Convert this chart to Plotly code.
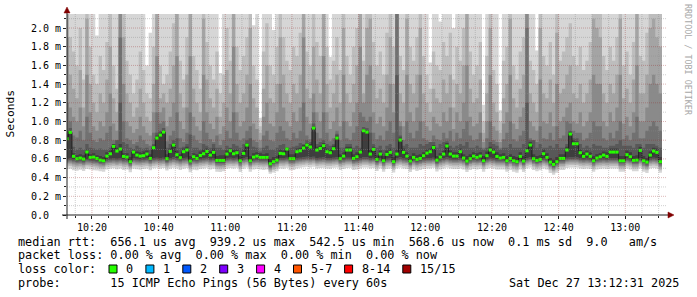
import numpy as np
import pandas as pd
import plotly.graph_objects as go

# ---------------- data (in microseconds) ----------------
first_step_start = "2025-12-27 10:12:00"
x_range = ["2025-12-27 10:12:31", "2025-12-27 13:12:31"]

median_us = [
    816, 884, 628, 602, 609, 598, 674, 616, 619, 605,
    587, 580, 630, 655, 734, 684, 705, 627, 619, 570,
    673, 641, 630, 634, 652, 605, 720, 823, 855, 887,
    602, 680, 748, 645, 613, 677, 695, 577, 623, 605,
    637, 655, 680, 641, 670, 584, 584, 584, 652, 687,
    655, 666, 580, 659, 748, 580, 619, 630, 616, 616,
    616, 548, 570, 587, 659, 655, 705, 602, 602, 677,
    687, 716, 748, 727, 930, 695, 712, 741, 677, 666,
    709, 823, 602, 630, 695, 695, 605, 623, 673, 901,
    887, 652, 702, 595, 652, 580, 648, 670, 570, 652,
    802, 670, 630, 577, 616, 595, 605, 634, 662, 677,
    723, 587, 619, 652, 738, 652, 630, 630, 677, 609,
    577, 602, 630, 616, 630, 580, 634, 695, 673, 627,
    609, 616, 580, 605, 580, 570, 627, 577, 687, 748,
    602, 584, 595, 655, 616, 566, 541, 570, 605, 605,
    695, 866, 762, 762, 666, 627, 652, 627, 580, 609,
    623, 641, 627, 673, 673, 673, 580, 580, 645, 623,
    584, 587, 691, 580, 566, 641, 684, 670, 570,
]

p1_us = [
    490, 495, 480, 472, 485, 470, 492, 488, 478, 475,
    468, 462, 488, 495, 500, 490, 498, 482, 488, 458,
    495, 490, 485, 492, 498, 480, 500, 505, 495, 502,
    475, 495, 505, 498, 482, 495, 502, 458, 485, 480,
    492, 498, 505, 488, 495, 462, 460, 468, 495, 502,
    498, 505, 460, 495, 508, 462, 488, 492, 488, 482,
    488, 440, 455, 468, 498, 495, 505, 480, 482, 498,
    505, 510, 515, 508, 515, 498, 502, 505, 498, 495,
    505, 508, 482, 492, 502, 505, 482, 488, 498, 508,
    508, 498, 502, 470, 498, 462, 492, 498, 455, 498,
    508, 498, 492, 460, 488, 470, 482, 492, 498, 498,
    505, 465, 488, 498, 508, 498, 492, 492, 498, 488,
    460, 482, 492, 488, 492, 462, 492, 502, 498, 488,
    488, 488, 462, 482, 462, 452, 488, 460, 498, 508,
    482, 468, 478, 498, 488, 450, 430, 452, 482, 482,
    502, 508, 508, 508, 498, 492, 498, 492, 462, 488,
    492, 498, 492, 498, 498, 498, 462, 462, 498, 488,
    468, 468, 498, 462, 450, 498, 502, 498, 452,
]
p2_us = [
    520, 525, 512, 505, 510, 500, 518, 515, 510, 505,
    495, 492, 515, 520, 525, 518, 525, 512, 515, 488,
    522, 518, 515, 520, 525, 510, 525, 530, 522, 528,
    505, 522, 532, 525, 512, 522, 528, 488, 512, 510,
    520, 525, 530, 518, 522, 492, 490, 495, 522, 528,
    525, 530, 490, 522, 532, 492, 515, 520, 515, 512,
    515, 460, 482, 495, 525, 522, 530, 510, 510, 525,
    530, 535, 540, 535, 540, 525, 530, 532, 525, 525,
    530, 535, 510, 520, 530, 530, 510, 515, 525, 535,
    535, 525, 530, 500, 525, 490, 520, 525, 485, 525,
    535, 525, 520, 488, 515, 500, 510, 520, 525, 525,
    530, 495, 515, 525, 535, 525, 520, 520, 525, 515,
    488, 510, 520, 515, 520, 492, 520, 530, 525, 515,
    515, 515, 490, 510, 490, 480, 515, 488, 525, 535,
    510, 495, 505, 525, 515, 478, 455, 480, 510, 510,
    530, 535, 535, 535, 525, 520, 525, 520, 490, 515,
    520, 525, 520, 525, 525, 525, 490, 490, 525, 515,
    495, 495, 525, 490, 478, 525, 530, 525, 480,
]
p3_us = [
    540, 542, 530, 522, 528, 518, 535, 532, 528, 522,
    512, 510, 532, 538, 542, 535, 542, 530, 532, 505,
    540, 535, 532, 538, 542, 528, 542, 548, 540, 545,
    522, 540, 550, 542, 530, 540, 545, 505, 530, 528,
    538, 542, 548, 535, 540, 510, 508, 512, 540, 545,
    542, 548, 508, 540, 550, 510, 532, 538, 532, 530,
    532, 475, 498, 512, 542, 540, 548, 528, 528, 542,
    548, 552, 558, 552, 558, 542, 548, 550, 542, 542,
    548, 552, 528, 538, 548, 548, 528, 532, 542, 552,
    552, 542, 548, 518, 542, 508, 538, 542, 502, 542,
    552, 542, 538, 505, 532, 518, 528, 538, 542, 542,
    548, 512, 532, 542, 552, 542, 538, 538, 542, 532,
    505, 528, 538, 532, 538, 510, 538, 548, 542, 532,
    532, 532, 508, 528, 508, 498, 532, 505, 542, 552,
    528, 512, 522, 542, 532, 495, 472, 498, 528, 528,
    548, 552, 552, 552, 542, 538, 542, 538, 508, 532,
    538, 542, 538, 542, 542, 542, 508, 508, 542, 532,
    512, 512, 542, 508, 495, 542, 548, 542, 498,
]
p4_us = [
    555, 560, 548, 540, 545, 535, 552, 550, 545, 540,
    530, 528, 550, 555, 560, 552, 560, 548, 550, 520,
    558, 552, 550, 555, 560, 545, 560, 565, 558, 562,
    540, 558, 568, 560, 548, 558, 562, 522, 548, 545,
    555, 560, 565, 552, 558, 528, 525, 530, 558, 562,
    560, 565, 525, 558, 568, 528, 550, 555, 550, 548,
    550, 490, 515, 530, 560, 558, 565, 545, 545, 560,
    565, 570, 575, 570, 575, 560, 565, 568, 560, 560,
    565, 570, 545, 555, 565, 565, 545, 550, 560, 570,
    570, 560, 565, 535, 560, 525, 555, 560, 518, 560,
    570, 560, 555, 522, 550, 535, 545, 555, 560, 560,
    565, 530, 550, 560, 570, 560, 555, 555, 560, 550,
    522, 545, 555, 550, 555, 528, 555, 565, 560, 550,
    550, 550, 525, 545, 525, 515, 550, 522, 560, 570,
    545, 530, 540, 560, 550, 510, 488, 515, 545, 545,
    565, 570, 570, 570, 560, 555, 560, 555, 525, 550,
    555, 560, 555, 560, 560, 560, 525, 525, 560, 550,
    530, 530, 560, 525, 510, 560, 565, 560, 515,
]
p5_us = [
    570, 575, 565, 555, 560, 550, 570, 565, 560, 555,
    545, 540, 565, 570, 575, 570, 575, 565, 565, 530,
    575, 570, 565, 570, 575, 560, 575, 580, 575, 580,
    555, 575, 585, 575, 565, 575, 580, 535, 565, 560,
    570, 575, 580, 570, 575, 540, 540, 540, 575, 580,
    575, 580, 540, 575, 585, 540, 565, 570, 565, 565,
    565, 505, 530, 545, 575, 575, 580, 560, 560, 575,
    580, 585, 590, 585, 590, 575, 580, 585, 575, 575,
    580, 585, 560, 570, 580, 580, 560, 565, 575, 585,
    585, 575, 580, 550, 575, 540, 570, 575, 530, 575,
    585, 575, 570, 535, 565, 550, 560, 570, 575, 575,
    580, 545, 565, 575, 585, 575, 570, 570, 575, 565,
    535, 560, 570, 565, 570, 540, 570, 580, 575, 565,
    565, 565, 540, 560, 540, 530, 565, 535, 575, 585,
    560, 545, 555, 575, 565, 525, 500, 530, 560, 560,
    580, 585, 585, 585, 575, 570, 575, 570, 540, 565,
    570, 575, 570, 575, 575, 575, 540, 540, 575, 565,
    545, 545, 575, 540, 525, 575, 580, 575, 530,
]
p6_us = [
    585, 590, 580, 570, 575, 565, 585, 580, 575, 570,
    560, 555, 580, 585, 590, 585, 590, 580, 580, 545,
    590, 585, 580, 585, 590, 575, 590, 595, 590, 595,
    570, 590, 600, 590, 580, 590, 595, 550, 580, 575,
    585, 590, 595, 585, 590, 555, 555, 555, 590, 595,
    590, 595, 555, 590, 600, 555, 580, 585, 580, 580,
    580, 520, 545, 560, 590, 590, 595, 575, 575, 590,
    595, 600, 605, 600, 605, 590, 595, 600, 590, 590,
    595, 600, 575, 585, 595, 595, 575, 580, 590, 600,
    600, 590, 595, 565, 590, 555, 585, 590, 545, 590,
    600, 590, 585, 550, 580, 565, 575, 585, 590, 590,
    595, 560, 580, 590, 600, 590, 585, 585, 590, 580,
    550, 575, 585, 580, 585, 555, 585, 595, 590, 580,
    580, 580, 555, 575, 555, 545, 580, 550, 590, 600,
    575, 560, 570, 590, 580, 540, 515, 545, 575, 575,
    595, 600, 600, 600, 590, 585, 590, 585, 555, 580,
    585, 590, 585, 590, 590, 590, 555, 555, 590, 580,
    560, 560, 590, 555, 540, 590, 595, 590, 545,
]
p7_us = [
    600, 610, 600, 585, 590, 580, 600, 595, 595, 585,
    575, 570, 600, 605, 610, 605, 610, 600, 600, 560,
    610, 605, 600, 605, 610, 590, 610, 615, 610, 615,
    585, 610, 620, 610, 595, 610, 615, 565, 600, 590,
    605, 610, 615, 605, 610, 570, 570, 570, 610, 615,
    610, 615, 570, 610, 620, 570, 600, 605, 600, 600,
    600, 535, 560, 575, 610, 610, 615, 590, 590, 610,
    615, 620, 625, 620, 625, 610, 615, 620, 610, 610,
    615, 620, 590, 605, 615, 615, 590, 600, 610, 620,
    620, 610, 615, 580, 610, 570, 605, 610, 560, 610,
    620, 610, 605, 565, 600, 580, 590, 605, 610, 610,
    615, 575, 600, 610, 620, 610, 605, 605, 610, 595,
    565, 590, 605, 600, 605, 570, 605, 615, 610, 600,
    595, 600, 570, 590, 570, 560, 600, 565, 610, 620,
    590, 575, 585, 610, 600, 555, 530, 560, 590, 590,
    615, 620, 620, 620, 610, 605, 610, 605, 570, 595,
    605, 610, 605, 610, 610, 610, 570, 570, 610, 600,
    575, 575, 610, 570, 555, 610, 615, 610, 560,
]
p9_us = [
    860, 900, 660, 640, 650, 640, 700, 650, 660, 640,
    630, 620, 670, 690, 760, 720, 760, 660, 660, 620,
    700, 680, 670, 680, 690, 650, 740, 850, 880, 910,
    650, 710, 770, 690, 650, 710, 730, 630, 660, 650,
    680, 700, 710, 680, 710, 630, 640, 640, 690, 710,
    700, 700, 630, 700, 770, 630, 660, 670, 660, 650,
    660, 600, 620, 630, 700, 690, 720, 650, 650, 710,
    720, 750, 770, 760, 950, 730, 740, 770, 710, 700,
    740, 850, 650, 670, 730, 730, 650, 670, 700, 920,
    910, 700, 730, 640, 690, 630, 690, 710, 620, 700,
    830, 710, 670, 630, 660, 640, 650, 670, 700, 710,
    750, 630, 660, 690, 770, 690, 670, 670, 710, 650,
    630, 650, 670, 660, 670, 630, 680, 730, 710, 670,
    650, 660, 630, 650, 630, 620, 670, 630, 720, 780,
    650, 630, 640, 700, 660, 610, 590, 620, 650, 650,
    730, 890, 800, 790, 700, 670, 690, 670, 630, 650,
    660, 680, 670, 710, 710, 710, 630, 630, 690, 670,
    630, 640, 730, 630, 610, 680, 720, 710, 620,
]
p10_us = [
    900, 930, 730, 700, 720, 700, 760, 720, 710, 700,
    710, 700, 700, 720, 760, 800, 1200, 780, 760, 720,
    700, 740, 720, 710, 720, 700, 760, 880, 900, 930,
    720, 760, 800, 820, 720, 730, 760, 860, 720, 720,
    700, 760, 740, 720, 760, 720, 720, 700, 740, 720,
    760, 740, 720, 760, 800, 820, 730, 720, 680, 720,
    740, 700, 700, 720, 750, 760, 720, 720, 730, 740,
    770, 760, 800, 780, 980, 760, 780, 800, 760, 740,
    760, 870, 720, 720, 760, 760, 720, 740, 720, 940,
    930, 880, 760, 720, 740, 700, 740, 760, 720, 1500,
    850, 740, 760, 720, 720, 720, 760, 740, 760, 780,
    780, 720, 760, 780, 790, 740, 720, 740, 760, 740,
    780, 720, 720, 740, 720, 700, 720, 780, 760, 740,
    700, 720, 720, 760, 720, 720, 720, 760, 1200, 800,
    800, 720, 760, 720, 720, 740, 720, 760, 720, 720,
    760, 900, 820, 820, 760, 720, 740, 720, 760, 740,
    740, 720, 720, 740, 740, 760, 800, 740, 740, 740,
    720, 760, 760, 720, 760, 760, 760, 740, 720,
]
p11_us = [
    1200, 1000, 850, 830, 900, 800, 1050, 880, 800, 780,
    820, 800, 880, 950, 800, 780, 1900, 1000, 820, 800,
    760, 780, 850, 800, 760, 740, 880, 1100, 980, 1000,
    790, 850, 900, 1100, 820, 780, 880, 1100, 850, 800,
    770, 1000, 880, 810, 780, 850, 750, 800, 900, 820,
    1100, 880, 800, 820, 900, 950, 800, 780, 720, 850,
    900, 800, 790, 880, 950, 900, 820, 800, 880, 820,
    900, 1200, 850, 810, 1100, 880, 820, 1100, 880, 790,
    820, 900, 800, 1000, 820, 800, 880, 950, 1100, 1050,
    1000, 1050, 880, 810, 850, 800, 900, 1000, 880, 2300,
    950, 800, 1000, 880, 820, 900, 1000, 820, 800, 780,
    850, 810, 800, 880, 820, 900, 790, 880, 820, 920,
    1000, 850, 800, 810, 880, 720, 820, 1000, 800, 780,
    720, 810, 880, 1000, 810, 790, 850, 900, 2000, 820,
    800, 780, 950, 820, 810, 880, 800, 950, 820, 850,
    1000, 980, 900, 880, 880, 800, 820, 880, 1000, 950,
    950, 820, 800, 880, 820, 900, 1000, 810, 850, 800,
    880, 1050, 820, 820, 900, 950, 1000, 950, 900,
]
p12_us = [
    1900, 1150, 1050, 1000, 1150, 950, 1500, 1100, 950, 900,
    1000, 950, 1100, 1300, 980, 900, 2300, 1400, 1000, 950,
    880, 920, 1050, 950, 880, 850, 1100, 1700, 1100, 1150,
    950, 1050, 1200, 1700, 1000, 920, 1150, 1700, 1050, 950,
    900, 1500, 1100, 980, 920, 1050, 870, 950, 1150, 1000,
    1800, 1100, 950, 1000, 1150, 1400, 980, 920, 800, 1050,
    1200, 980, 950, 1100, 1400, 1150, 1000, 950, 1100, 1000,
    1150, 1900, 1050, 980, 1300, 1100, 1000, 1700, 1100, 920,
    1000, 1150, 950, 1500, 1000, 950, 1100, 1200, 1800, 1200,
    1500, 1600, 1100, 980, 1050, 950, 1150, 1400, 1100, 2300,
    1000, 950, 1500, 1100, 1000, 1150, 1500, 1000, 950, 900,
    1050, 980, 950, 1100, 1000, 1150, 920, 1100, 1000, 1200,
    1600, 1050, 950, 980, 1100, 780, 1000, 1500, 950, 900,
    780, 980, 1100, 1500, 980, 920, 1050, 1150, 2300, 1000,
    950, 900, 1450, 1000, 980, 1100, 950, 1400, 1000, 1050,
    1150, 1200, 1000, 980, 1100, 950, 1000, 1100, 1500, 1400,
    1400, 1000, 950, 1100, 1000, 1150, 1500, 980, 1050, 950,
    1100, 1600, 1000, 1000, 1150, 1400, 1500, 1400, 1300,
]
p13_us = [
    2300, 1500, 1350, 1250, 1550, 1150, 2100, 1400, 1200, 1100,
    1300, 1200, 1450, 1800, 1250, 1100, 2300, 1900, 1300, 1200,
    1050, 1150, 1350, 1200, 1050, 1000, 1400, 2300, 1250, 1300,
    1200, 1350, 1600, 2300, 1300, 1150, 1500, 2300, 1350, 1200,
    1100, 2100, 1450, 1250, 1150, 1350, 1050, 1200, 1550, 1300,
    2300, 1400, 1200, 1300, 1500, 2000, 1250, 1150, 880, 1350,
    1600, 1250, 1200, 1400, 1900, 1500, 1300, 1200, 1400, 1300,
    1500, 2300, 1350, 1250, 1800, 1450, 1300, 2300, 1400, 1150,
    1300, 1500, 1200, 2000, 1300, 1200, 1400, 1600, 2300, 1300,
    2000, 2100, 1450, 1250, 1350, 1200, 1500, 1900, 1400, 2300,
    1300, 1200, 2100, 1400, 1300, 1500, 2000, 1300, 1200, 1100,
    1350, 1250, 1200, 1450, 1300, 1500, 1150, 1400, 1300, 1600,
    2200, 1350, 1200, 1250, 1450, 880, 1300, 2000, 1200, 1100,
    880, 1250, 1400, 2100, 1250, 1150, 1350, 1500, 2300, 1300,
    1200, 1100, 2000, 1300, 1250, 1450, 1200, 1950, 1300, 1350,
    1500, 1600, 1300, 1250, 1400, 1200, 1300, 1450, 2100, 2000,
    1900, 1300, 1200, 1400, 1300, 1500, 2100, 1250, 1350, 1200,
    1450, 2200, 1300, 1300, 1500, 2000, 2100, 1900, 1800,
]
p14_us = [
    2300, 1900, 1750, 1600, 2000, 1450, 2300, 1800, 1500, 1400,
    1700, 1550, 1850, 2300, 1600, 1350, 2300, 2300, 1650, 1500,
    1300, 1450, 1750, 1550, 1300, 1250, 1800, 2300, 1600, 1400,
    1500, 1750, 2050, 2300, 1650, 1450, 1900, 2300, 1700, 1550,
    1350, 2300, 1850, 1600, 1450, 1750, 1300, 1500, 2000, 1650,
    2300, 1800, 1550, 1700, 1900, 2300, 1600, 1450, 950, 1750,
    2050, 1600, 1500, 1800, 2300, 1900, 1650, 1550, 1800, 1700,
    1950, 2300, 1750, 1600, 2300, 1850, 1700, 2300, 1800, 1450,
    1650, 1900, 1550, 2300, 1700, 1500, 1800, 2000, 2300, 1650,
    2300, 2300, 1850, 1600, 1750, 1500, 1950, 2300, 1800, 2300,
    1700, 1550, 2300, 1800, 1650, 1900, 2300, 1700, 1500, 1350,
    1750, 1600, 1550, 1850, 1700, 1950, 1450, 1800, 1650, 2000,
    2300, 1750, 1500, 1600, 1850, 1000, 1700, 2300, 1550, 1400,
    1000, 1650, 1800, 2300, 1600, 1450, 1750, 1900, 2300, 1650,
    1550, 1400, 2300, 1700, 1600, 1850, 1500, 2300, 1650, 1750,
    1900, 2050, 1700, 1600, 1800, 1550, 1650, 1850, 2300, 2300,
    2300, 1700, 1550, 1800, 1650, 1900, 2300, 1600, 1750, 1500,
    1850, 2300, 1700, 1650, 1950, 2300, 2300, 2300, 2300,
]
p15_us = [
    2300, 2300, 2300, 2300, 2300, 2300, 2300, 2300, 2300, 1920,
    2300, 2300, 2300, 2300, 2300, 2300, 2300, 2300, 2300, 2300,
    2300, 2300, 2300, 2300, 1600, 1950, 2300, 2300, 2300, 2300,
    2300, 2300, 2300, 2300, 2300, 2300, 2300, 2300, 2300, 2300,
    2300, 2300, 2300, 2300, 2300, 2300, 1520, 2300, 2300, 2300,
    2300, 2300, 2300, 2300, 2300, 2300, 2030, 2300, 1040, 2300,
    2300, 2300, 1980, 2300, 2300, 2300, 2300, 2300, 2300, 2300,
    2300, 2300, 2300, 2300, 2300, 2300, 2300, 2300, 2300, 1690,
    2300, 2300, 2300, 2300, 2300, 2300, 2300, 2300, 2300, 2300,
    2300, 2300, 2300, 2300, 2300, 2300, 2300, 2300, 2300, 2300,
    2300, 2300, 2300, 2300, 2300, 2300, 2300, 2300, 2300, 1630,
    2300, 2300, 2070, 2300, 2300, 2300, 2000, 2300, 2300, 2300,
    2300, 2300, 2300, 2300, 2300, 1180, 2300, 2300, 2300, 2300,
    1120, 2300, 2300, 2300, 2300, 2300, 2300, 2300, 2300, 2300,
    2300, 1760, 2300, 2300, 2300, 2300, 2300, 1950, 2300, 2300,
    2300, 2300, 2300, 2300, 2300, 2300, 2300, 2300, 2300, 2300,
    2300, 2300, 2300, 2300, 2300, 2300, 2300, 2300, 2300, 2300,
    2300, 2300, 2300, 2300, 2300, 2300, 2300, 2300, 2300,
]

smoke_colors = ["#d6d6d6", "#bdbdbd", "#a4a4a4", "#8a8a8a", "#717171", "#585858", "#3e3e3e"]
median_line_color = "#202020"

y_tick_vals = [0.0, 0.2, 0.4, 0.6, 0.8, 1.0, 1.2, 1.4, 1.6, 1.8, 2.0]
y_tick_text = ["0.0\u00a0\u00a0", "0.2 m", "0.4 m", "0.6 m", "0.8 m", "1.0 m",
               "1.2 m", "1.4 m", "1.6 m", "1.8 m", "2.0 m"]
y_minor_vals = [0.1, 0.3, 0.5, 0.7, 0.9, 1.1, 1.3, 1.5, 1.7, 1.9, 2.1]
x_tick_text = ["10:20", "10:40", "11:00", "11:20", "11:40", "12:00", "12:20", "12:40", "13:00"]
x_minor_every_min = 5

loss_labels = ["0", "1", "2", "3", "4", "5-7", "8-14", "15/15"]
loss_colors = ["#26ff00", "#00b8ff", "#0059ff", "#7e00ff", "#ff00ff", "#ff5500", "#ff0000", "#a10000"]

legend_lines = [
    "median rtt:  656.1 us avg  939.2 us max  542.5 us min  568.6 us now  0.1 ms sd  9.0   am/s",
    "packet loss: 0.00 % avg  0.00 % max  0.00 % min  0.00 % now",
    "loss color:",
    "probe:       15 ICMP Echo Pings (56 Bytes) every 60s",
]
date_text = "Sat Dec 27 13:12:31 2025"
y_title = "Seconds"
watermark = "RRDTOOL / TOBI OETIKER"

# ---------------- figure geometry ----------------
W, H = 697, 297
L, R, T, B = 67, 30, 14, 82
PW, PH = W - L - R, H - T - B
Y_TOP = 2.15
MONO = "DejaVu Sans Mono"


def px(xp):
    return (xp - L) / PW


def py(yp):
    return (T + PH - yp) / PH


n = len(median_us)
edges = pd.date_range(first_step_start, periods=n + 1, freq="min")

lower = np.vstack([p1_us, p2_us, p3_us, p4_us, p5_us, p6_us, p7_us]).astype(float)
upper = np.vstack([p9_us, p10_us, p11_us, p12_us, p13_us, p14_us, p15_us]).astype(float)
med = np.array(median_us, dtype=float)
# keep sorted order of pings consistent around the median
upper = np.maximum.accumulate(np.vstack([med, upper]), axis=0)[1:]
lower = np.minimum.accumulate(np.vstack([med, lower[::-1]]), axis=0)[1:][::-1]


def stepped(vals_us):
    v = list(np.asarray(vals_us, dtype=float) / 1000.0)
    return v + [v[-1]]


fig = go.Figure()

# smoke: band i between ping i and ping 16-i
for i in range(7):
    lo = lower[i]
    hi = upper[6 - i]
    fig.add_trace(go.Scatter(x=edges, y=stepped(lo), mode="lines",
                             line=dict(width=0, shape="hv"), hoverinfo="skip",
                             showlegend=False))
    fig.add_trace(go.Scatter(x=edges, y=stepped(hi), mode="lines",
                             line=dict(width=0, shape="hv"), fill="tonexty",
                             fillcolor=smoke_colors[i], hoverinfo="skip",
                             showlegend=False))

# median connecting line
fig.add_trace(go.Scatter(x=edges, y=stepped(med), mode="lines",
                         line=dict(width=1, shape="hv", color=median_line_color),
                         hoverinfo="skip", showlegend=False))

# median markers (loss 0 colour)
gx, gy = [], []
for k in range(n):
    gx += [edges[k], edges[k + 1], None]
    gy += [med[k] / 1000.0, med[k] / 1000.0, None]
fig.add_trace(go.Scatter(x=gx, y=gy, mode="lines",
                         line=dict(width=3, color=loss_colors[0]),
                         hoverinfo="skip", showlegend=False))

# ---------------- grid (drawn above the smoke, like rrdtool) ----------------
shapes = []
GRID = "rgba(140,140,140,0.42)"
MGRID = "rgba(150,30,30,0.32)"
DASH = "1px,1px"
for v in y_minor_vals:
    shapes.append(dict(type="line", xref="paper", yref="y", x0=0, x1=1, y0=v, y1=v,
                       line=dict(color=GRID, width=1, dash=DASH), layer="above"))
for v in y_tick_vals[1:]:
    shapes.append(dict(type="line", xref="paper", yref="y", x0=0, x1=1, y0=v, y1=v,
                       line=dict(color=MGRID, width=1, dash=DASH), layer="above"))

x_minor = pd.date_range("2025-12-27 10:15", "2025-12-27 13:10", freq=f"{x_minor_every_min}min")
x_major = pd.date_range("2025-12-27 10:20", periods=len(x_tick_text), freq="20min")
major_set = set(x_major)
for t in x_minor:
    if t in major_set:
        continue
    shapes.append(dict(type="line", xref="x", yref="paper", x0=t, x1=t, y0=0, y1=1,
                       line=dict(color=GRID, width=1, dash=DASH), layer="above"))
for t in x_major:
    shapes.append(dict(type="line", xref="x", yref="paper", x0=t, x1=t, y0=0, y1=1,
                       line=dict(color=MGRID, width=1, dash=DASH), layer="above"))

# axes lines with arrows
AX = "#202020"
ARROW = "#800000"
shapes.append(dict(type="line", xref="paper", yref="paper", x0=px(62), x1=px(670), y0=0, y1=0,
                   line=dict(color=AX, width=1), layer="above"))
shapes.append(dict(type="line", xref="paper", yref="paper", x0=0, x1=0, y0=py(219), y1=py(12),
                   line=dict(color=AX, width=1), layer="above"))
shapes.append(dict(type="path", xref="paper", yref="paper",
                   path=f"M {px(668)} {py(212)} L {px(674)} {py(215)} L {px(668)} {py(218)} Z",
                   fillcolor=ARROW, line=dict(color=ARROW, width=0.5), layer="above"))
shapes.append(dict(type="path", xref="paper", yref="paper",
                   path=f"M {px(64)} {py(13)} L {px(67)} {py(7)} L {px(70)} {py(13)} Z",
                   fillcolor=ARROW, line=dict(color=ARROW, width=0.5), layer="above"))

# ---------------- legend text ----------------
annotations = []
FS = 11.8
CW = 7.1
line_y = [241.5, 255.2, 269.2, 283.0]


def nb(s):
    return s.replace(" ", "\u00a0")


for s, yv in zip(legend_lines, line_y):
    annotations.append(dict(xref="paper", yref="paper", x=px(16), y=py(yv), text=nb(s),
                            showarrow=False, xanchor="left", yanchor="middle",
                            font=dict(family=MONO, size=FS, color="#000000")))
annotations.append(dict(xref="paper", yref="paper", x=px(680.5), y=py(line_y[3]), text=nb(date_text),
                        showarrow=False, xanchor="right", yanchor="middle",
                        font=dict(family=MONO, size=FS, color="#000000")))

bx = 109.0
for lab, col in zip(loss_labels, loss_colors):
    shapes.append(dict(type="rect", xref="paper", yref="paper",
                       x0=px(bx), x1=px(bx + 8), y0=py(265), y1=py(273),
                       fillcolor=col, line=dict(color="#000000", width=1)))
    annotations.append(dict(xref="paper", yref="paper", x=px(bx + 15), y=py(line_y[2]),
                            text=lab, showarrow=False, xanchor="left", yanchor="middle",
                            font=dict(family=MONO, size=FS, color="#000000")))
    bx = bx + 15 + len(lab) * CW + 14.8

annotations.append(dict(xref="paper", yref="paper", x=px(10), y=py(113.5), text=y_title,
                        textangle=-90, showarrow=False, xanchor="center", yanchor="middle",
                        font=dict(family=MONO, size=11.3, color="#000000")))
annotations.append(dict(xref="paper", yref="paper", x=px(688), y=py(60), text=nb(watermark),
                        textangle=90, showarrow=False, xanchor="center", yanchor="middle",
                        font=dict(family=MONO, size=8.4, color="#a8a8a8")))

fig.update_layout(
    width=W, height=H,
    margin=dict(l=L, r=R, t=T, b=B, pad=0),
    paper_bgcolor="#ffffff", plot_bgcolor="#ffffff",
    showlegend=False,
    shapes=shapes, annotations=annotations,
    font=dict(family=MONO, color="#000000"),
    xaxis=dict(type="date", range=x_range, showgrid=False, zeroline=False, showline=False,
               tickmode="array", tickvals=list(x_major), ticktext=x_tick_text,
               ticks="outside", ticklen=3, tickcolor=AX, tickwidth=1,
               tickfont=dict(family=MONO, size=10, color="#000000"),
               minor=dict(tickmode="array", tickvals=list(x_minor), ticks="outside",
                          ticklen=2, tickcolor=AX, showgrid=False),
               automargin=False, fixedrange=True),
    yaxis=dict(range=[0, Y_TOP], showgrid=False, zeroline=False, showline=False,
               tickmode="array", tickvals=y_tick_vals, ticktext=y_tick_text,
               ticks="outside", ticklen=3, tickcolor=AX, tickwidth=1,
               tickfont=dict(family=MONO, size=10, color="#000000"),
               minor=dict(tickmode="array", tickvals=y_minor_vals, ticks="outside",
                          ticklen=2, tickcolor=AX, showgrid=False),
               automargin=False, fixedrange=True),
)

fig.write_html("out.html")
